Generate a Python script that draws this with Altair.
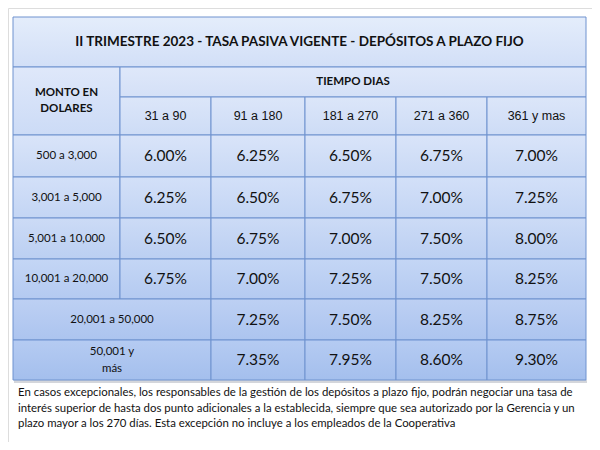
import altair as alt
import pandas as pd

# ---------------- data ----------------
title = "II TRIMESTRE 2023 - TASA PASIVA VIGENTE - DEPÓSITOS A PLAZO FIJO"
row_head = "MONTO EN\nDOLARES"
col_group = "TIEMPO DIAS"
terms = ["31 a 90", "91 a 180", "181 a 270", "271 a 360", "361 y mas"]
amounts = ["500 a 3,000", "3,001 a 5,000", "5,001 a 10,000", "10,001 a 20,000",
           "20,001 a 50,000", "50,001 y\nmás"]
rates_r1 = [6.00, 6.25, 6.50, 6.75, 7.00]
rates_r2 = [6.25, 6.50, 6.75, 7.00, 7.25]
rates_r3 = [6.50, 6.75, 7.00, 7.50, 8.00]
rates_r4 = [6.75, 7.00, 7.25, 7.50, 8.25]
rates_r5 = [None, 7.25, 7.50, 8.25, 8.75]
rates_r6 = [None, 7.35, 7.95, 8.60, 9.30]
rates = [rates_r1, rates_r2, rates_r3, rates_r4, rates_r5, rates_r6]
footnote = [
    "En casos excepcionales, los responsables de la gestión de los depósitos a plazo fijo, podrán negociar una tasa de",
    "interés superior de hasta dos punto adicionales a la establecida, siempre que sea autorizado por la Gerencia y un",
    "plazo mayor a los 270 días. Esta excepción no incluye a los empleados de la Cooperativa",
]

# ---------------- layout ----------------
COL = [13, 120, 211, 305, 396, 487, 586]
ROW = [17, 67, 97, 135, 177, 218, 259, 299, 340, 380]
FOOT_X, FOOT_Y0, FOOT_DY = 18, 393, 15.5
BORDER = "#6f92cf"

bands = {
    "title": ("#e4edfb", "#d2dff7"),
    "head": ("#dfe8fa", "#ccdbf6"),
    "tiempo": ("#dfe8fa", "#d4e0f7"),
    "sub": ("#dce6f9", "#cddcf6"),
    "r0": ("#d9e4f9", "#c9d9f5"),
    "r1": ("#d3e0f8", "#c3d5f4"),
    "r2": ("#ccdbf6", "#bbcff2"),
    "r3": ("#c4d6f5", "#b4caf1"),
    "r4": ("#bdd0f3", "#acc4ef"),
    "r5": ("#b5cbf2", "#a4bfed"),
}

cells = []
def add(x, x2, y, y2, band, text, style):
    if "\n" in text:
        style = style + "2"
    cells.append(dict(x=x, x2=x2, y=y, y2=y2, cx=(x + x2) / 2, cy=(y + y2) / 2,
                      band=band, text=text, style=style))

add(COL[0], COL[6], ROW[0], ROW[1], "title", title, "title")
add(COL[0], COL[1], ROW[1], ROW[3], "head", row_head, "head")
add(COL[1], COL[6], ROW[1], ROW[2], "tiempo", col_group, "head")
for j, t in enumerate(terms):
    add(COL[j + 1], COL[j + 2], ROW[2], ROW[3], "sub", t, "term")
for i, (a, rr) in enumerate(zip(amounts, rates)):
    y, y2 = ROW[3 + i], ROW[4 + i]
    span = 2 if rr[0] is None else 1
    add(COL[0], COL[span], y, y2, f"r{i}", a, "amount")
    for j, v in enumerate(rr):
        if v is None:
            continue
        add(COL[j + 1], COL[j + 2], y, y2, f"r{i}", f"{v:.2f}%", "rate")

df = pd.DataFrame(cells)
foot_df = pd.DataFrame({"text": footnote,
                        "x": [FOOT_X] * len(footnote),
                        "y": [FOOT_Y0 + k * FOOT_DY for k in range(len(footnote))]})

W, H = 584, 434
xs = alt.Scale(domain=[8, 8 + W], nice=False, zero=False)
ys = alt.Scale(domain=[8, 8 + H], nice=False, zero=False, reverse=True)
X = lambda f: alt.X(f"{f}:Q", scale=xs, axis=None)
Y = lambda f: alt.Y(f"{f}:Q", scale=ys, axis=None)

base = alt.Chart(df)
layers = []

# shadow below table
shadow = pd.DataFrame({"x": [COL[0] + 1], "x2": [COL[6] + 1], "y": [ROW[-1]], "y2": [ROW[-1] + 3]})
layers.append(alt.Chart(shadow).mark_rect(color="#c9ccd2", opacity=0.8).encode(
    x=X("x"), x2="x2", y=Y("y"), y2="y2"))

for band, (c1, c2) in bands.items():
    grad = alt.Gradient(gradient="linear", x1=0, y1=0, x2=0, y2=1,
                        stops=[alt.GradientStop(color=c1, offset=0),
                               alt.GradientStop(color=c2, offset=1)])
    layers.append(base.transform_filter(alt.datum.band == band).mark_rect(
        fill=grad, stroke=BORDER, strokeWidth=1).encode(
        x=X("x"), x2="x2", y=Y("y"), y2="y2"))

styles = {
    "title": dict(font="Lato", fontSize=13.5, fontWeight="bold"),
    "head": dict(font="Lato", fontSize=11.5, fontWeight="bold"),
    "head2": dict(font="Lato", fontSize=11.5, fontWeight="bold", lineHeight=16, dy=-8),
    "term": dict(font="Liberation Sans", fontSize=12.5),
    "amount": dict(font="Lato", fontSize=11.5),
    "amount2": dict(font="Lato", fontSize=11.5, lineHeight=17, dy=-8.5),
    "rate": dict(font="Lato", fontSize=15.5),
}
for st, kw in styles.items():
    layers.append(base.transform_filter(alt.datum.style == st).mark_text(
        align="center", baseline="middle", color="#111111", lineBreak="\n", **kw).encode(
        x=X("cx"), y=Y("cy"), text="text:N"))

layers.append(alt.Chart(foot_df).mark_text(
    align="left", baseline="middle", font="Lato", fontSize=11.4, color="#111111").encode(
    x=X("x"), y=Y("y"), text="text:N"))

chart = alt.layer(*layers).properties(
    width=W, height=H, padding=0, autosize="none"
).configure_view(stroke=None).configure(background="white")

chart.save("out.html", embed_options={"renderer": "svg", "actions": False})
